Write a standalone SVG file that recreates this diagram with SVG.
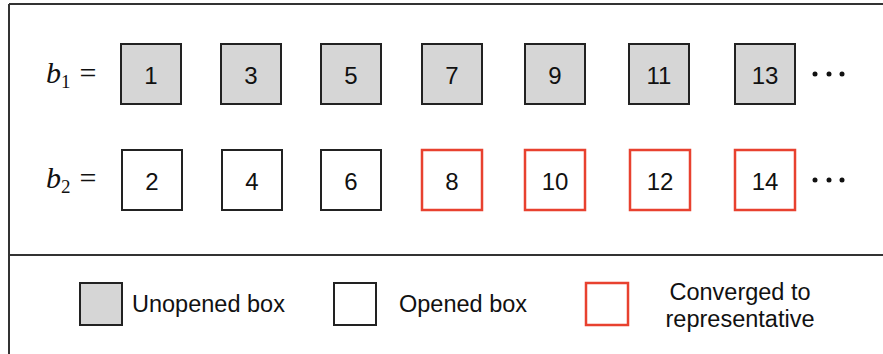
<svg xmlns="http://www.w3.org/2000/svg" width="883" height="354" viewBox="0 0 883 354">
<style>
.box{stroke:#222;stroke-width:2;fill:#fff}
.gray{fill:#d6d6d6}
.red{stroke:#e8412f;stroke-width:2.5}
.num{font-family:"Liberation Sans",Arial,sans-serif;font-size:24px;fill:#111;text-anchor:middle;dominant-baseline:central}
.lab{font-family:"Liberation Serif","Times New Roman",serif;font-size:30px;fill:#111}
.leg{font-family:"Liberation Sans",Arial,sans-serif;font-size:23.5px;fill:#111}
.frame{stroke:#333;stroke-width:2;fill:none}
.dot{fill:#111}
</style>
<g id="frame">
<path class="frame" d="M9,4 H883 M9,4 V354 M9,255 H883"/>
</g>
<g id="label-b1"><text class="lab" x="46" y="83"><tspan font-style="italic">b</tspan><tspan font-size="19" dy="5">1</tspan><tspan dx="9" dy="-5">=</tspan></text></g>
<g id="label-b2"><text class="lab" x="46" y="188"><tspan font-style="italic">b</tspan><tspan font-size="19" dy="5">2</tspan><tspan dx="9" dy="-5">=</tspan></text></g>
<g id="n1"><rect class="box gray" x="121" y="44" width="60" height="60"/><text class="num" x="151" y="75">1</text></g>
<g id="n3"><rect class="box gray" x="221" y="44" width="60" height="60"/><text class="num" x="251" y="75">3</text></g>
<g id="n5"><rect class="box gray" x="321" y="44" width="60" height="60"/><text class="num" x="351" y="75">5</text></g>
<g id="n7"><rect class="box gray" x="422" y="44" width="60" height="60"/><text class="num" x="452" y="75">7</text></g>
<g id="n9"><rect class="box gray" x="525" y="44" width="60" height="60"/><text class="num" x="555" y="75">9</text></g>
<g id="n11"><rect class="box gray" x="629" y="44" width="60" height="60"/><text class="num" x="659" y="75">11</text></g>
<g id="n13"><rect class="box gray" x="735" y="44" width="60" height="60"/><text class="num" x="765" y="75">13</text></g>
<g id="dots1"><circle class="dot" cx="815" cy="74" r="2.5"/><circle class="dot" cx="829" cy="74" r="2.5"/><circle class="dot" cx="842" cy="74" r="2.5"/></g>
<g id="n2"><rect class="box" x="122" y="150" width="60" height="60"/><text class="num" x="152" y="181">2</text></g>
<g id="n4"><rect class="box" x="222" y="150" width="60" height="60"/><text class="num" x="252" y="181">4</text></g>
<g id="n6"><rect class="box" x="321" y="150" width="60" height="60"/><text class="num" x="351" y="181">6</text></g>
<g id="n8"><rect class="box red" x="422" y="150" width="60" height="60"/><text class="num" x="452" y="181">8</text></g>
<g id="n10"><rect class="box red" x="525" y="150" width="60" height="60"/><text class="num" x="555" y="181">10</text></g>
<g id="n12"><rect class="box red" x="630" y="150" width="60" height="60"/><text class="num" x="660" y="181">12</text></g>
<g id="n14"><rect class="box red" x="735" y="150" width="60" height="60"/><text class="num" x="765" y="181">14</text></g>
<g id="dots2"><circle class="dot" cx="815" cy="180" r="2.5"/><circle class="dot" cx="829" cy="180" r="2.5"/><circle class="dot" cx="842" cy="180" r="2.5"/></g>
<g id="legend-unopened"><rect class="box gray" x="80" y="283" width="42" height="42"/><text class="leg" x="132" y="312">Unopened box</text></g>
<g id="legend-opened"><rect class="box" x="334" y="283" width="42" height="42"/><text class="leg" x="399" y="312">Opened box</text></g>
<g id="legend-converged"><rect class="box red" x="586" y="283" width="42" height="42"/><text class="leg" text-anchor="middle" x="740" y="300">Converged to</text><text class="leg" text-anchor="middle" x="740" y="327">representative</text></g>
</svg>
